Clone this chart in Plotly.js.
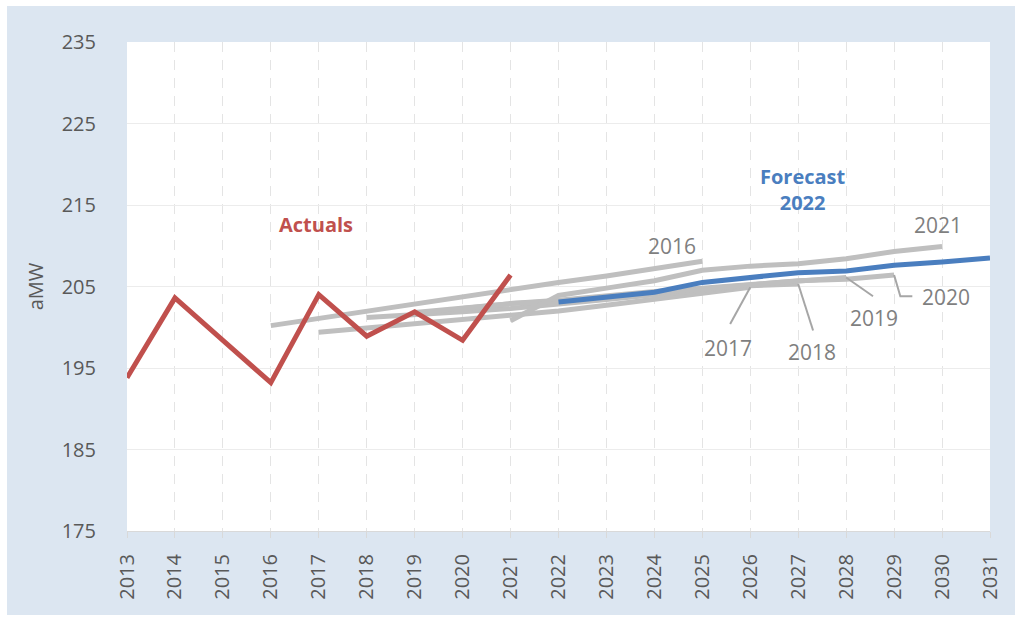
<!DOCTYPE html>
<html>
<head>
<meta charset="utf-8">
<script src="https://cdn.plot.ly/plotly-3.0.1.min.js"></script>
<style>
  html, body { margin: 0; padding: 0; background: #ffffff; width: 1015px; height: 617px; overflow: hidden; }
  #chart { position: absolute; left: 7px; top: 6px; width: 1008px; height: 609px; }
</style>
</head>
<body>
<div id="chart"></div>
<script>
// ---- data ----
const actualYears = [2013, 2014, 2015, 2016, 2017, 2018, 2019, 2020, 2021];
const actuals     = [193.8, 203.6, 198.4, 193.2, 204.0, 198.9, 201.9, 198.4, 206.4];

const forecastYears = [2022, 2023, 2024, 2025, 2026, 2027, 2028, 2029, 2030, 2031];
const forecast2022  = [203.1, 203.7, 204.3, 205.5, 206.1, 206.7, 206.9, 207.6, 208.0, 208.5];

const v2016Years = [2016, 2017, 2018, 2019, 2020, 2021, 2022, 2023, 2024, 2025];
const v2016      = [200.2, 201.1, 202.0, 202.8, 203.7, 204.6, 205.5, 206.3, 207.2, 208.1];
const v2017Years = [2017, 2018, 2019, 2020, 2021, 2022, 2023, 2024, 2025, 2026];
const v2017      = [199.4, 199.9, 200.4, 200.9, 201.4, 202.0, 202.7, 203.4, 204.2, 204.9];
const v2018Years = [2018, 2019, 2020, 2021, 2022, 2023, 2024, 2025, 2026, 2027];
const v2018      = [201.2, 201.5, 201.9, 202.3, 202.8, 203.4, 204.0, 204.6, 205.1, 205.3];
const v2019Years = [2019, 2020, 2021, 2022, 2023, 2024, 2025, 2026, 2027, 2028];
const v2019      = [201.8, 202.4, 202.9, 203.3, 203.9, 204.4, 204.8, 205.2, 205.6, 206.1];
const v2020Years = [2020, 2021, 2022, 2023, 2024, 2025, 2026, 2027, 2028, 2029];
const v2020      = [202.3, 202.9, 203.2, 203.7, 204.2, 204.8, 205.3, 205.7, 205.9, 206.4];
const v2021Years = [2021, 2022, 2023, 2024, 2025, 2026, 2027, 2028, 2029, 2030];
const v2021      = [200.8, 203.9, 204.8, 205.7, 207.0, 207.5, 207.8, 208.4, 209.3, 209.9];

const vintageNames = ['2016', '2017', '2018', '2019', '2020', '2021'];
const yTicks = [175, 185, 195, 205, 215, 225, 235];

// ---- styles ----
const FONT = '"Open Sans", "Noto Sans", sans-serif';
const GRAY_LINE = '#bfbfbf';
const LABEL_GRAY = '#7f7f7f';
const LEADER = '#a6a6a6';
const RED = '#c0504d';
const BLUE = '#4a7ebf';

const vintages = [
  [v2016Years, v2016], [v2017Years, v2017], [v2018Years, v2018],
  [v2019Years, v2019], [v2020Years, v2020], [v2021Years, v2021]
];

const traces = vintages.map((v, i) => ({
  x: v[0], y: v[1], name: vintageNames[i], type: 'scatter', mode: 'lines',
  line: { color: GRAY_LINE, width: 5 }, hoverinfo: 'skip'
}));
traces.push({
  x: forecastYears, y: forecast2022, name: 'Forecast 2022', type: 'scatter', mode: 'lines',
  line: { color: BLUE, width: 5 }
});
traces.push({
  x: actualYears, y: actuals, name: 'Actuals', type: 'scatter', mode: 'lines',
  line: { color: RED, width: 5 }
});

const last = a => a[a.length - 1];

function lbl(text, x, y, color, bold) {
  return {
    text: bold ? '<b>' + text + '</b>' : text, x: x, y: y, xref: 'x', yref: 'y',
    showarrow: false, font: { family: FONT, size: bold ? 20 : 21, color: color },
    xanchor: 'center', yanchor: 'middle'
  };
}

const annotations = [
  lbl('Actuals', 2016.94, 212.6, RED, true),
  lbl('Forecast<br>2022', 2027.1, 216.9, BLUE, true),
  lbl('2016', 2024.37, 210.0, LABEL_GRAY, false),
  lbl('2017', 2025.54, 197.4, LABEL_GRAY, false),
  lbl('2018', 2027.29, 197.0, LABEL_GRAY, false),
  lbl('2019', 2028.58, 201.1, LABEL_GRAY, false),
  lbl('2020', 2030.08, 203.7, LABEL_GRAY, false),
  lbl('2021', 2029.92, 212.6, LABEL_GRAY, false)
];

function leader(x0, y0, x1, y1) {
  return { type: 'line', xref: 'x', yref: 'y', x0: x0, y0: y0, x1: x1, y1: y1,
           line: { color: LEADER, width: 2 } };
}

const shapes = [
  leader(last(v2017Years), last(v2017), 2025.58, 200.4),
  leader(last(v2018Years), last(v2018), 2027.31, 199.6),
  leader(last(v2019Years), last(v2019), 2028.56, 203.8),
  { type: 'path', xref: 'x', yref: 'y',
    path: 'M ' + last(v2020Years) + ' ' + last(v2020) +
          ' L ' + (last(v2020Years) + 0.13) + ' 203.8 L ' + (last(v2020Years) + 0.38) + ' 203.8',
    line: { color: LEADER, width: 2 } }
];

const layout = {
  width: 1008, height: 609,
  margin: { l: 120, r: 25, t: 36, b: 84 },
  paper_bgcolor: '#dce6f1',
  plot_bgcolor: '#ffffff',
  showlegend: false,
  font: { family: FONT, color: '#595959' },
  xaxis: {
    range: [2013, 2031], dtick: 1, tick0: 2013, tickangle: -90,
    tickfont: { family: FONT, size: 20, color: '#595959' },
    showgrid: true, gridcolor: '#e4e4e4', griddash: '10px,8px', gridwidth: 1,
    showline: true, linecolor: '#d9d9d9', linewidth: 1,
    ticks: 'outside', ticklen: 6, tickcolor: '#d9d9d9', zeroline: false,
    ticklabelstandoff: 8,
    fixedrange: true
  },
  yaxis: {
    range: [175, 235], tickvals: yTicks, ticktext: yTicks.map(String),
    tickfont: { family: FONT, size: 20, color: '#595959' },
    showgrid: true, gridcolor: '#ececec', gridwidth: 1,
    showline: false, ticks: '', ticklabelstandoff: 30, zeroline: false,
    title: { text: 'aMW', font: { family: FONT, size: 20, color: '#595959' }, standoff: 12 },
    fixedrange: true
  },
  annotations: annotations,
  shapes: shapes
};

Plotly.newPlot('chart', traces, layout, { displayModeBar: false, staticPlot: true });
</script>
</body>
</html>
